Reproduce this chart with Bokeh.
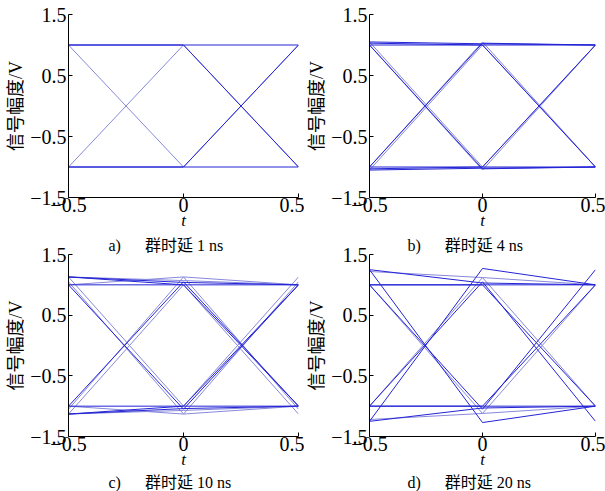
from bokeh.plotting import figure
from bokeh.layouts import gridplot
from bokeh.models import Range1d, FixedTicker, Title, CustomJSTickFormatter
from bokeh.embed import file_html
from bokeh.resources import INLINE

# time samples (bit periods)
T = [-0.5, 0.0, 0.5]
x_ticks = [-0.5, 0.0, 0.5]
y_ticks = [-1.5, -0.5, 0.5, 1.5]

# eye-diagram traces: y values at T
a_dark = [[1, 1, 1], [-1, -1, -1], [1, 1, -1], [-1, -1, 1]]
a_light = [[1, -1, 1], [-1, 1, -1]]

b_dark = [[1.05, 1.02, 1.0], [1.0, 1.0, 1.0], [-1.05, -1.02, -1.0], [-1.0, -1.0, -1.0],
          [1.0, -1.03, -1.0], [-1.0, 1.03, 1.0], [1.03, 1.0, -1.0], [-1.03, -1.0, 1.0]]
b_light = [[1.05, -1.0, 1.0], [-1.05, 1.0, -1.0], [1.0, -1.05, 1.0], [-1.0, 1.05, -1.0]]

c_dark = [[1.13, 1.04, 1.0], [1.0, 1.0, 1.0], [-1.13, -1.04, -1.0], [-1.0, -1.0, -1.0],
          [1.0, -1.05, 1.0], [-1.0, 1.05, -1.0], [-1.13, -1.0, 1.0], [1.13, 1.0, -1.0]]
c_light = [[1.13, 1.07, 1.0], [-1.13, -1.07, -1.0], [1.13, -1.0, 1.13], [-1.13, 1.0, -1.13],
           [1.05, -1.13, -1.0], [-1.05, 1.13, 1.0], [1.0, 1.13, -1.05], [-1.0, -1.13, 1.05]]

d_dark = [[1.25, 1.03, 1.0], [1.0, 1.0, 1.0], [-1.25, -1.03, -1.0], [-1.0, -1.0, -1.0],
          [-1.25, 1.27, 1.0], [1.25, -1.27, -1.0], [1.0, -1.05, 1.25], [-1.0, 1.05, -1.25],
          [1.0, 1.0, -1.0], [-1.0, -1.0, 1.0]]
d_light = [[1.22, 1.12, 1.0], [-1.22, -1.12, -1.0], [-1.0, 1.12, -1.0], [1.0, -1.12, 1.0]]

captions = ["a)\u3000\u2002群时延 1 ns", "b)\u3000\u2002群时延 4 ns",
            "c)\u3000\u2002群时延 10 ns", "d)\u3000\u2002群时延 20 ns"]
y_label = "信号幅度/V"
x_label = "t"

FONT = "'Liberation Serif', 'Noto Sans CJK SC'"
SERIF = "Liberation Serif"
DARK = "#2424d6"
LIGHT = "#8888dc"

fmt_code = "var s = Math.abs(tick).toString(); return (tick < 0 ? '\\u2212' : '') + s;"


def caption_title(text, off, standoff):
    return Title(text=text, align="left", offset=off, text_font=FONT,
                 text_font_size="16px", text_font_style="normal",
                 text_color="black", standoff=standoff)


def make(dark, light, w, h, bl, br, bt, bb):
    p = figure(width=w, height=h, x_range=Range1d(-0.5, 0.5), y_range=Range1d(-1.5, 1.5),
               output_backend="svg", toolbar_location=None,
               min_border_left=bl, min_border_right=br,
               min_border_top=bt, min_border_bottom=bb)
    p.outline_line_color = None
    p.grid.visible = False
    for ys in light:
        p.line(T, ys, line_color=LIGHT, line_width=1)
    for ys in dark:
        p.line(T, ys, line_color=DARK, line_width=1)

    for ax, ticks in ((p.xaxis[0], x_ticks), (p.yaxis[0], y_ticks)):
        ax.ticker = FixedTicker(ticks=ticks)
        ax.formatter = CustomJSTickFormatter(code=fmt_code)
        ax.major_tick_in = 4
        ax.major_tick_out = 0
        ax.minor_tick_line_color = None
        ax.axis_line_color = "black"
        ax.major_tick_line_color = "black"
        ax.major_label_text_font = SERIF
        ax.major_label_text_font_size = "20px"
        ax.major_label_text_color = "black"
        ax.axis_label_text_font = FONT
        ax.axis_label_text_color = "black"
    p.xaxis.major_label_standoff = 0
    p.yaxis.major_label_standoff = 2
    p.xaxis.axis_label = x_label
    p.xaxis.axis_label_text_font_style = "italic"
    p.xaxis.axis_label_text_font_size = "17px"
    p.xaxis.axis_label_standoff = -4
    p.yaxis.axis_label = y_label
    p.yaxis.axis_label_text_font_style = "normal"
    p.yaxis.axis_label_text_font_size = "18px"
    p.yaxis.axis_label_standoff = 1
    return p


pa = make(a_dark, a_light, 304, 232, 68, 6, 14, 35)
pb = make(b_dark, b_light, 301, 232, 60, 10, 14, 35)
pc = make(c_dark, c_light, 304, 259, 68, 6, 22, 55)
pd = make(d_dark, d_light, 301, 259, 60, 10, 22, 55)

# captions of the upper panels sit just above the lower panels' frames
pc.add_layout(caption_title(captions[0], 40, 2), "above")
pd.add_layout(caption_title(captions[1], 38, 2), "above")
pc.add_layout(caption_title(captions[2], 40, 0), "below")
pd.add_layout(caption_title(captions[3], 38, 0), "below")

grid = gridplot([[pa, pb], [pc, pd]], toolbar_location=None)
open("out.html", "w").write(file_html(grid, INLINE))
